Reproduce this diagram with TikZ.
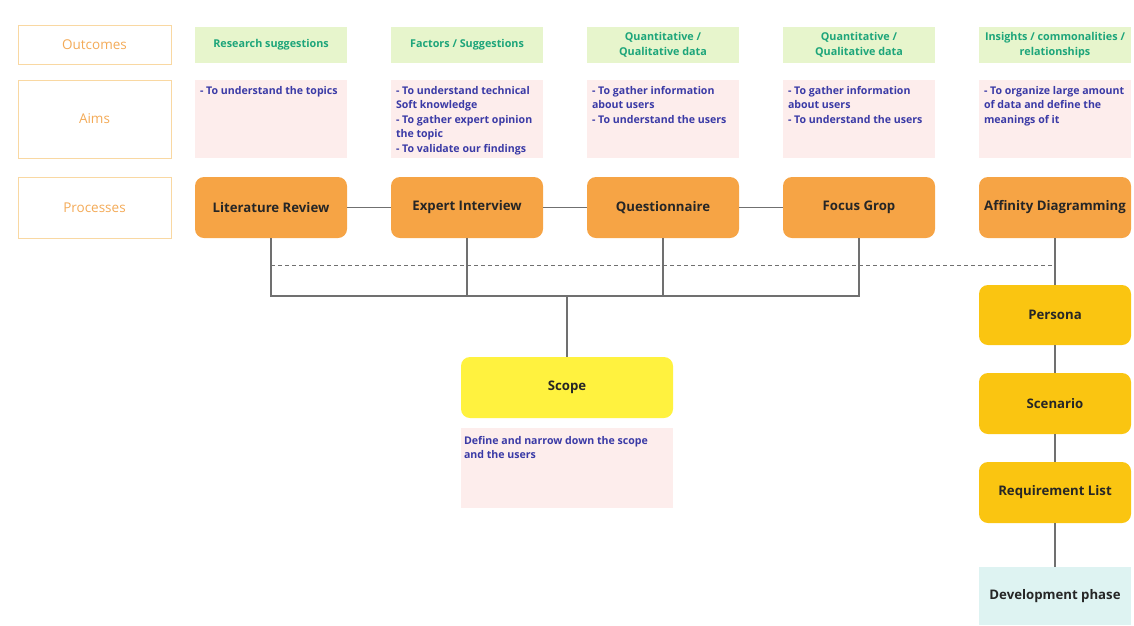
\documentclass[tikz,border=0pt]{standalone}
\usepackage{fontspec}
\setmainfont{Open Sans}
\definecolor{procorange}{HTML}{F6A445}
\definecolor{scopeyellow}{HTML}{FFF23F}
\definecolor{goldfill}{HTML}{FAC511}
\definecolor{outcgreen}{HTML}{E7F5CC}
\definecolor{outcteal}{HTML}{1DA57A}
\definecolor{aimpink}{HTML}{FDEDEC}
\definecolor{aimblue}{HTML}{3A3AA6}
\definecolor{sideorange}{HTML}{F9D8A2}
\definecolor{sidetext}{HTML}{F3AA57}
\definecolor{devcyan}{HTML}{DEF3F2}
\definecolor{linegray}{HTML}{707070}

\begin{document}
\begin{tikzpicture}[x=1pt, y=-1pt, every node/.style={inner sep=0pt, text=black!85},
	side/.style={draw=sideorange, line width=0.8pt, text=sidetext, minimum width=153pt, font=\fontsize{13.5}{15}\selectfont},
	outc/.style={fill=outcgreen, text=outcteal, align=center, minimum width=152pt, minimum height=36pt, font=\bfseries\fontsize{10.8}{15}\selectfont},
	aimbox/.style={fill=aimpink, minimum width=152pt, minimum height=78pt},
	aimtxt/.style={text=aimblue, align=left, anchor=north west, font=\bfseries\fontsize{10.6}{14.5}\selectfont},
	proc/.style={fill=procorange, rounded corners=9pt, minimum width=152pt, minimum height=61pt, font=\bfseries\fontsize{13.2}{15}\selectfont},
	link/.style={draw=linegray, line width=1.1pt}]
	\useasboundingbox (0,0) rectangle (1134,625);
	\node[side, minimum height=39pt] (outlbl) at (94.5,44.5) {Outcomes};
	\node[side, minimum height=78pt] (aimlbl) at (94.5,119) {Aims};
	\node[side, minimum height=61pt] (proclbl) at (94.5,207.5) {Processes};

	\node[outc] (out1) at (271,45) {Research suggestions};
	\node[outc] (out2) at (467,45) {Factors / Suggestions};
	\node[outc] (out3) at (663,45) {Quantitative /\\Qualitative data};
	\node[outc] (out4) at (859,45) {Quantitative /\\Qualitative data};
	\node[outc] (out5) at (1055,45) {Insights / commonalities /\\relationships};

	\node[aimbox] (aim1) at (271,119) {};
	\node[aimbox] (aim2) at (467,119) {};
	\node[aimbox] (aim3) at (663,119) {};
	\node[aimbox] (aim4) at (859,119) {};
	\node[aimbox] (aim5) at (1055,119) {};
	\node[aimtxt] (aimt1) at ([shift={(5,6)}]aim1.north west) {- To understand the topics};
	\node[aimtxt] (aimt2) at ([shift={(5,6)}]aim2.north west) {- To understand technical\\Soft knowledge\\- To gather expert opinion\\the topic\\- To validate our findings};
	\node[aimtxt] (aimt3) at ([shift={(5,6)}]aim3.north west) {- To gather information\\about users\\- To understand the users};
	\node[aimtxt] (aimt4) at ([shift={(5,6)}]aim4.north west) {- To gather information\\about users\\- To understand the users};
	\node[aimtxt] (aimt5) at ([shift={(5,6)}]aim5.north west) {- To organize large amount\\of data and define the\\meanings of it};

	\node[proc] (lit) at (271,207.5) {Literature Review};
	\node[proc] (exp) at (467,207.5) {Expert Interview};
	\node[proc] (que) at (663,207.5) {Questionnaire};
	\node[proc] (foc) at (859,207.5) {Focus Grop};
	\node[proc] (aff) at (1055,207.5) {Affinity Diagramming};

	\node[proc, fill=scopeyellow, minimum width=212pt] (scope) at (567,387.5) {Scope};
	\node[aimbox, minimum width=212pt, minimum height=80pt] (scopeaim) at (567,468) {};
	\node[aimtxt] (scopet) at ([shift={(3,8)}]scopeaim.north west) {Define and narrow down the scope\\and the users};

	\node[proc, fill=goldfill, minimum height=60pt] (per) at (1055,315) {Persona};
	\node[proc, fill=goldfill] (sce) at (1055,403.5) {Scenario};
	\node[proc, fill=goldfill] (req) at (1055,492.5) {Requirement List};
	\node[proc, fill=devcyan, sharp corners, minimum height=58pt] (dev) at (1055,596) {Development phase};

	\coordinate (join) at (567,296);
	\coordinate (dash) at (0,265);
	\draw[link] (lit) -- (exp);
	\draw[link] (exp) -- (que);
	\draw[link] (que) -- (foc);
	\draw[link] (lit.south) |- (join) -| (foc.south);
	\draw[link] (exp.south) -- (exp.south |- join);
	\draw[link] (que.south) -- (que.south |- join);
	\draw[link] (join) -- (scope);
	\draw[link, line width=0.8pt, dash pattern=on 4pt off 3pt] (lit.south |- dash) -- (aff.south |- dash);
	\draw[link] (aff) -- (per) -- (sce) -- (req) -- (dev);
\end{tikzpicture}
\end{document}
